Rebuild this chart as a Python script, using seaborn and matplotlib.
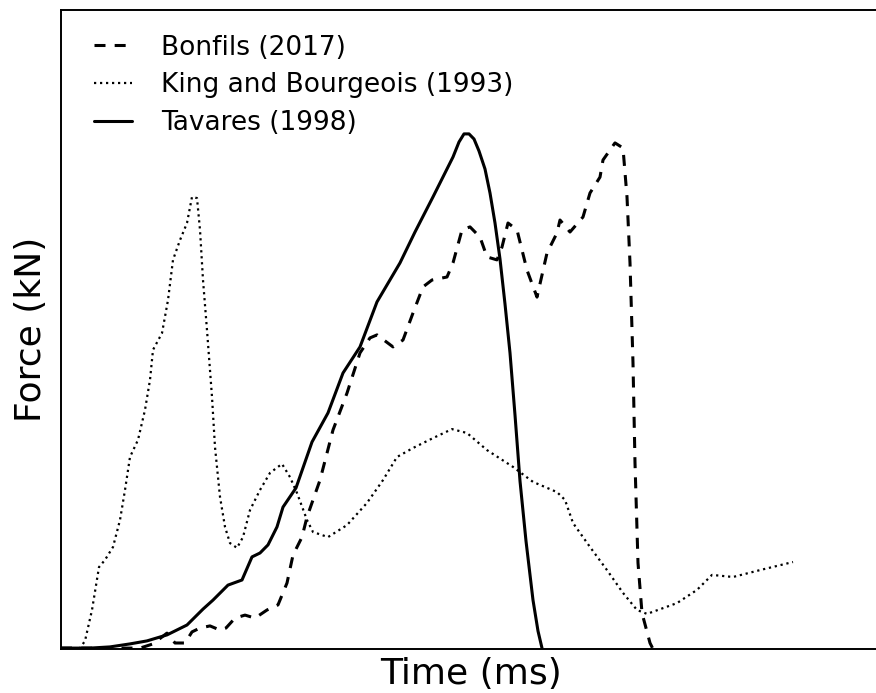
import matplotlib
matplotlib.use("Agg")
import matplotlib.pyplot as plt
import seaborn as sns
import pandas as pd

# Bonfils (2017)
bonfils_t = [0, 7.8, 15.8, 18.4, 21.2, 22.8, 24.8, 26.2, 27.8, 29.8, 31.8, 33.0, 34.8,
             36.8, 38.8, 41.2, 43.4, 45.2, 46.4, 48.2, 49.2, 51.8, 54.4, 57.2, 59.8,
             61.8, 63.2, 66.4, 68.4, 70.4, 72.4, 74.2, 77.2, 78.4, 80.2, 81.8, 83.8,
             85.2, 87.2, 88.2, 89.4, 91.2, 93.2, 95.2, 97.2, 99.2, 99.8, 101.8, 104.4,
             105.8, 107.8, 108.4, 110.8, 112.4, 113.2, 113.8, 114.4, 114.8, 115.4,
             116.2, 117.8, 118.4]
bonfils_f = [0.3, 0.3, 0.3, 1.7, 5.3, 2.0, 2.0, 5.7, 7.0, 7.7, 6.3, 7.0, 10.3,
             11.3, 10.3, 13.0, 14.7, 22.0, 31.3, 37.3, 44.0, 56.3, 73.0, 85.3, 98.7,
             103.7, 104.7, 100.7, 103.0, 112.0, 120.7, 123.0, 124.0, 128.7, 139.7,
             140.7, 137.3, 130.7, 129.7, 134.0, 142.0, 139.7, 126.3, 117.3, 132.0,
             138.7, 143.0, 139.0, 144.0, 152.0, 157.3, 163.0, 168.7, 167.0, 150.7,
             128.7, 95.3, 62.0, 28.7, 12.0, 2.0, 0.0]

# King and Bourgeois (1993)
king_t = [0, 3.8, 4.8, 6.2, 7.6, 8.8, 10.4, 11.8, 12.8, 13.8, 15.4, 16.8, 17.8, 18.4,
          20.2, 21.4, 22.4, 23.8, 25.2, 26.2, 27.2, 27.8, 28.4, 29.2, 30.2, 30.8,
          31.8, 32.8, 33.8, 35.2, 36.4, 37.8, 39.8, 41.8, 44.2, 45.8, 47.2, 49.2,
          50.4, 53.4, 57.2, 61.2, 64.4, 67.2, 70.4, 74.4, 78.2, 81.2, 85.2, 90.4,
          94.4, 99.2, 100.8, 102.4, 105.8, 109.2, 112.4, 115.2, 117.2, 123.2, 127.2,
          130.2, 134.4, 139.8, 146.4]
king_f = [0.0, 0.3, 2.7, 13.0, 27.3, 29.7, 34.0, 43.0, 53.0, 64.0, 69.7, 79.7, 89.7,
          99.7, 105.3, 116.3, 129.7, 136.3, 142.0, 150.7, 150.3, 139.7, 123.0, 106.3,
          84.0, 67.3, 50.7, 40.7, 35.3, 33.7, 37.3, 46.3, 53.0, 58.7, 61.7, 57.3,
          52.0, 43.0, 39.0, 37.3, 41.3, 48.7, 56.3, 64.0, 67.0, 70.3, 73.3, 72.0,
          66.3, 60.7, 55.7, 52.3, 49.7, 42.0, 34.0, 26.3, 18.7, 13.0, 11.7, 15.3,
          19.7, 24.7, 24.0, 26.3, 29.0]

# Tavares (1998)
tavares_t = [0, 5.8, 9.8, 13.8, 17.2, 21.2, 25.2, 28.4, 30.4, 33.4, 36.2, 38.2, 39.8,
             41.4, 43.2, 44.4, 47.0, 50.2, 53.4, 56.4, 59.8, 63.2, 67.8, 70.8, 74.4,
             78.4, 79.6, 80.6, 81.6, 82.6, 83.6, 84.8, 85.8, 86.8, 87.8, 88.8, 89.8,
             90.8, 91.8, 93.0, 94.4, 95.4, 96.2]
tavares_f = [0.3, 0.3, 0.7, 1.7, 2.7, 4.7, 8.0, 13.3, 16.3, 21.3, 23.0, 30.7, 32.0,
             34.7, 40.7, 47.3, 53.7, 69.0, 78.7, 92.0, 100.7, 115.7, 128.7, 139.0,
             150.7, 164.0, 169.0, 171.7, 171.7, 170.0, 166.0, 160.0, 152.0, 142.0,
             130.0, 115.0, 98.7, 78.0, 56.0, 36.0, 16.3, 6.0, 0.3]

series = [
    ("Bonfils (2017)", bonfils_t, bonfils_f, dict(lw=2.2, dashes=(3.6, 3.0))),
    ("King and Bourgeois (1993)", king_t, king_f, dict(lw=1.6, dashes=(1.0, 1.7))),
    ("Tavares (1998)", tavares_t, tavares_f, dict(lw=2.2, dashes=())),
]

sns.set_style("white")
plt.rcParams["font.family"] = ["DejaVu Sans"]
plt.rcParams["text.color"] = "black"
plt.rcParams["axes.labelcolor"] = "black"

fig = plt.figure(figsize=(8.76, 6.93), dpi=100)
ax = fig.add_axes([61 / 876, 44 / 693, 819 / 876, 639 / 693])

for name, t, f, style in series:
    df = pd.DataFrame({"t": t, "f": f})
    sns.lineplot(data=df, x="t", y="f", ax=ax, color="black", sort=False,
                 estimator=None, label=name, linewidth=style["lw"])
    line = ax.lines[-1]
    if style["dashes"]:
        line.set_dashes(style["dashes"])

ax.set_xlim(0, 163.8)
ax.set_ylim(0, 213)
ax.set_xticks([])
ax.set_yticks([])
ax.set_xlabel("Time (ms)", fontsize=26, labelpad=6, color="black")
ax.set_ylabel("Force (kN)", fontsize=26, labelpad=9, color="black")
for sp in ax.spines.values():
    sp.set_color("black")
    sp.set_linewidth(1.4)

leg = ax.legend(loc="upper left", frameon=False, fontsize=19, handlelength=1.45,
                handletextpad=1.1, labelspacing=0.45, borderaxespad=0,
                bbox_to_anchor=(22 / 819, 1 - 14 / 639))
for txt in leg.get_texts():
    txt.set_color("black")

fig.savefig("out.png", dpi=100)
